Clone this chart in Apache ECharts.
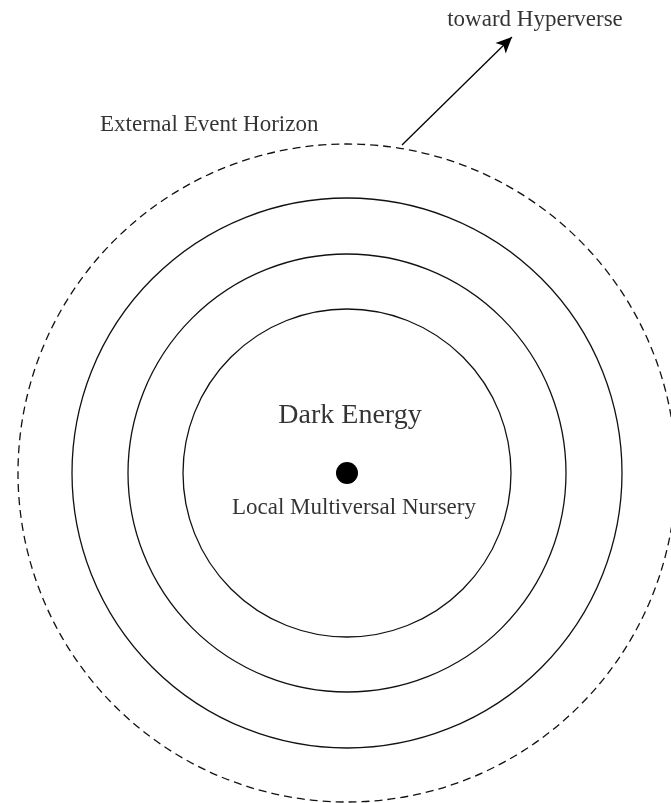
<!DOCTYPE html>
<html>
<head>
<meta charset="utf-8">
<script src="https://cdn.jsdelivr.net/npm/echarts@6/dist/echarts.min.js"></script>
<style>html,body{margin:0;padding:0;background:#fff;}#c{width:671px;height:803px;}</style>
</head>
<body>
<div id="c"></div>
<script>
// Concentric shells (radius in diagram units; centre at origin)
var shellRadii = [164, 219, 275];
var horizonRadius = [329];
var nurseryRadius = [11];
// Annotation texts
var labelTexts = ['Dark Energy', 'Local Multiversal Nursery', 'External Event Horizon', 'toward Hyperverse'];
var labelX = [3, 7, -247, 188];
var labelY = [57, -35, 348, 453];
// Arrow toward Hyperverse (start, end)
var arrowX = [55, 165];
var arrowY = [328, 436];

var FONT = '"Liberation Serif", "DejaVu Serif", serif';

function circleSeries(radii, dashed, filled) {
  return {
    type: 'custom',
    coordinateSystem: 'cartesian2d',
    data: radii.map(function (r) { return [0, 0, r]; }),
    renderItem: function (params, api) {
      var c = api.coord([api.value(0), api.value(1)]);
      var r = api.size([api.value(2), 0])[0];
      return {
        type: 'circle',
        shape: { cx: c[0], cy: c[1], r: r },
        style: filled ? { fill: '#000', stroke: null } : {
          fill: null, stroke: '#111', lineWidth: 1.3,
          lineDash: dashed ? [8, 5] : null
        }
      };
    },
    silent: true,
    z: 2
  };
}

var labelData = labelTexts.map(function (t, i) { return [labelX[i], labelY[i], t]; });
var labelSizes = [28, 23, 23, 23];
var labelAligns = ['center', 'center', 'left', 'center'];

var option = {
  animation: false,
  backgroundColor: '#fff',
  grid: { left: 0, right: 0, top: 0, bottom: 0 },
  xAxis: { type: 'value', min: -347, max: 324, show: false },
  yAxis: { type: 'value', min: -330, max: 473, show: false },
  series: [
    circleSeries(shellRadii, false, false),
    circleSeries(horizonRadius, true, false),
    circleSeries(nurseryRadius, false, true),
    {
      type: 'line',
      data: [],
      markLine: {
        silent: true,
        animation: false,
        symbol: ['none', 'arrow'],
        symbolSize: [11, 16],
        label: { show: false },
        lineStyle: { color: '#000', width: 1.3, type: 'solid' },
        itemStyle: { color: '#000' },
        emphasis: { disabled: true },
        data: [[{ coord: [arrowX[0], arrowY[0]] }, { coord: [arrowX[1], arrowY[1]] }]]
      },
      z: 3
    },
    {
      type: 'scatter',
      data: labelData.map(function (d, i) {
        return {
          value: d,
          label: {
            show: true,
            position: 'inside',
            formatter: function (p) { return p.value[2]; },
            fontFamily: FONT,
            fontSize: labelSizes[i],
            color: '#000',
            align: labelAligns[i],
            verticalAlign: 'middle'
          }
        };
      }),
      symbolSize: 0,
      itemStyle: { color: 'transparent' },
      silent: true,
      z: 4
    }
  ]
};
var chart = echarts.init(document.getElementById('c'), null, { renderer: 'canvas' });
chart.setOption(option);
</script>
</body>
</html>
